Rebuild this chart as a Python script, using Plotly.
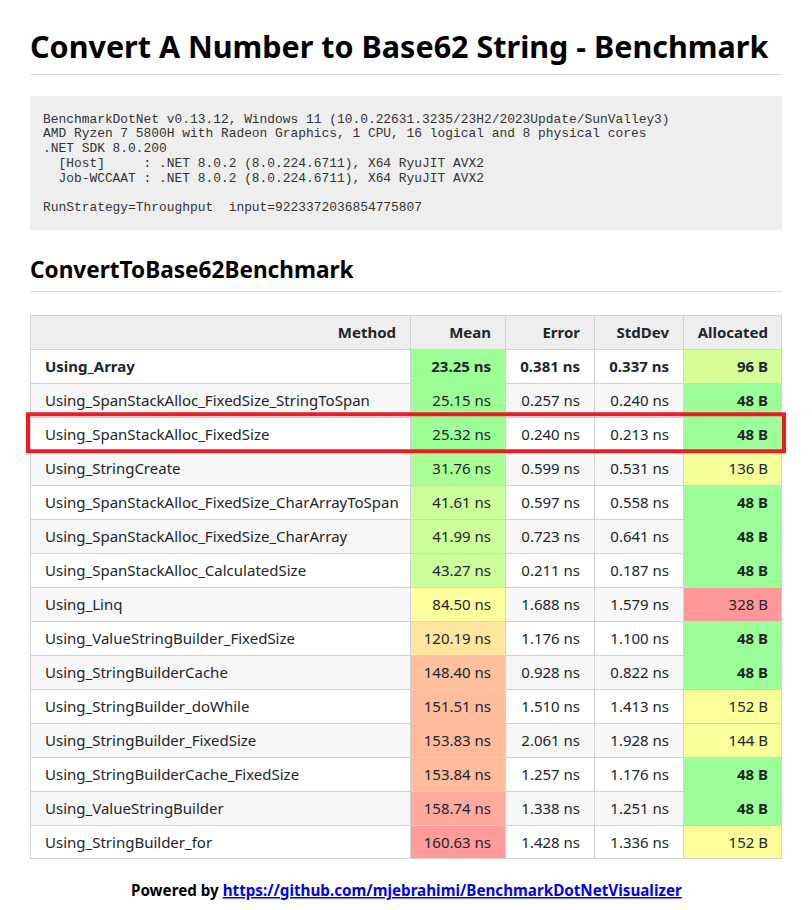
import plotly.graph_objects as go

# ---------------- data ----------------
methods = [
    "Using_Array",
    "Using_SpanStackAlloc_FixedSize_StringToSpan",
    "Using_SpanStackAlloc_FixedSize",
    "Using_StringCreate",
    "Using_SpanStackAlloc_FixedSize_CharArrayToSpan",
    "Using_SpanStackAlloc_FixedSize_CharArray",
    "Using_SpanStackAlloc_CalculatedSize",
    "Using_Linq",
    "Using_ValueStringBuilder_FixedSize",
    "Using_StringBuilderCache",
    "Using_StringBuilder_doWhile",
    "Using_StringBuilder_FixedSize",
    "Using_StringBuilderCache_FixedSize",
    "Using_ValueStringBuilder",
    "Using_StringBuilder_for",
]
mean_ns = [23.25, 25.15, 25.32, 31.76, 41.61, 41.99, 43.27, 84.50, 120.19,
           148.40, 151.51, 153.83, 153.84, 158.74, 160.63]
error_ns = [0.381, 0.257, 0.240, 0.599, 0.597, 0.723, 0.211, 1.688, 1.176,
            0.928, 1.510, 2.061, 1.257, 1.338, 1.428]
stddev_ns = [0.337, 0.240, 0.213, 0.531, 0.558, 0.641, 0.187, 1.579, 1.100,
             0.822, 1.413, 1.928, 1.176, 1.251, 1.336]
allocated_b = [96, 48, 48, 136, 48, 48, 48, 328, 48, 48, 152, 144, 48, 48, 152]
headers = ["Method", "Mean", "Error", "StdDev", "Allocated"]
highlighted = "Using_SpanStackAlloc_FixedSize"

title = "Convert A Number to Base62 String - Benchmark"
subtitle = "ConvertToBase62Benchmark"
env_lines = [
    "BenchmarkDotNet v0.13.12, Windows 11 (10.0.22631.3235/23H2/2023Update/SunValley3)",
    "AMD Ryzen 7 5800H with Radeon Graphics, 1 CPU, 16 logical and 8 physical cores",
    ".NET SDK 8.0.200",
    "  [Host]     : .NET 8.0.2 (8.0.224.6711), X64 RyuJIT AVX2",
    "  Job-WCCAAT : .NET 8.0.2 (8.0.224.6711), X64 RyuJIT AVX2",
    "",
    "RunStrategy=Throughput  input=9223372036854775807",
]
footer_prefix = "Powered by "
footer_link = "https://github.com/mjebrahimi/BenchmarkDotNetVisualizer"

# ---------------- styles ----------------
mean_colors = ["#9dff97", "#9dff97", "#9dff97", "#abff97", "#ccff99", "#ccff99",
               "#ccff99", "#ffff9e", "#ffe59d", "#ffc09d", "#ffbd9d", "#ffbb9c",
               "#ffbb9c", "#ffaa9c", "#ff9b9b"]
alloc_colors = ["#d6ff99", "#9cff99", "#9cff99", "#f4ff99", "#9cff99", "#9cff99",
                "#9cff99", "#ff9999", "#9cff99", "#9cff99", "#fcff99", "#f9ff99",
                "#9cff99", "#9cff99", "#fcff99"]

FONT = "Noto Sans"
MONO = "Liberation Mono"
TXT = "#212529"
GRID = "#d2d2d2"
HEADER_BG = "#eeeeee"
STRIPE = ["#ffffff", "#f7f7f7"]

# page geometry (the plot area is mapped 1:1 onto page pixels)
W, H, OFF = 796, 894, 8
TABLE_LEFT = 30
COL_W = [380, 95, 89, 89, 99]
TABLE_TOP = 315
ROW_H = 34
CELL_PAD = 14
TEXT_SIZE = 15
TEXT_DY = 1.8

n = len(methods)
best_alloc = min(allocated_b)

edges = [TABLE_LEFT]
for w in COL_W:
    edges.append(edges[-1] + w)
table_bottom = TABLE_TOP + ROW_H * (n + 1)


def row_center(i):  # i = -1 -> header
    return TABLE_TOP + ROW_H * (i + 1) + ROW_H / 2 + TEXT_DY


def b(text, bold):
    return f"<b>{text}</b>" if bold else text


col_texts = [
    [b(m, i == 0) for i, m in enumerate(methods)],
    [b(f"{v:.2f} ns", i == 0) for i, v in enumerate(mean_ns)],
    [b(f"{v:.3f} ns", i == 0) for i, v in enumerate(error_ns)],
    [b(f"{v:.3f} ns", i == 0) for i, v in enumerate(stddev_ns)],
    [b(f"{v} B", i == 0 or v == best_alloc) for i, v in enumerate(allocated_b)],
]
stripe = [STRIPE[i % 2] for i in range(n)]
col_fills = [stripe, mean_colors, stripe, stripe, alloc_colors]
col_align = ["left", "right", "right", "right", "right"]

shapes = []
# cell backgrounds
for c in range(5):
    shapes.append(dict(type="rect", xref="x", yref="y", layer="below",
                       x0=edges[c], x1=edges[c + 1], y0=TABLE_TOP, y1=TABLE_TOP + ROW_H,
                       fillcolor=HEADER_BG, line=dict(width=0)))
    for i in range(n):
        y0 = TABLE_TOP + ROW_H * (i + 1)
        shapes.append(dict(type="rect", xref="x", yref="y", layer="below",
                           x0=edges[c], x1=edges[c + 1], y0=y0, y1=y0 + ROW_H,
                           fillcolor=col_fills[c][i], line=dict(width=0)))
# grid lines
for e in edges:
    x = e + 0.5 if e != edges[-1] else e - 0.5
    shapes.append(dict(type="line", xref="x", yref="y", x0=x, x1=x,
                       y0=TABLE_TOP, y1=table_bottom, line=dict(color=GRID, width=1)))
for k in range(n + 2):
    y = TABLE_TOP + ROW_H * k + 0.5
    if k == n + 1:
        y -= 1
    shapes.append(dict(type="line", xref="x", yref="y", x0=edges[0], x1=edges[-1],
                       y0=y, y1=y, line=dict(color=GRID, width=1)))
# rules and code block
shapes += [
    dict(type="line", xref="x", yref="y", x0=30, x1=782, y0=74.5, y1=74.5,
         line=dict(color="#dcdcdc", width=1)),
    dict(type="rect", xref="x", yref="y", x0=30, x1=782, y0=96, y1=230,
         fillcolor="#eeeeee", line=dict(width=0), layer="below"),
    dict(type="line", xref="x", yref="y", x0=30, x1=782, y0=291.5, y1=291.5,
         line=dict(color="#dcdcdc", width=1)),
]
# highlight rectangle around the highlighted method row
hi = methods.index(highlighted)
hy0 = TABLE_TOP + ROW_H * (hi + 1)
shapes.append(dict(type="rect", xref="x", yref="y",
                   x0=edges[0] - 2, x1=edges[-1] + 2, y0=hy0 - 2.7, y1=hy0 + ROW_H + 0.3,
                   line=dict(color="#ec1c24", width=4), fillcolor="rgba(0,0,0,0)"))

fig = go.Figure()
# header texts
fig.add_trace(go.Scatter(
    x=[edges[c + 1] - CELL_PAD for c in range(5)],
    y=[row_center(-1)] * 5,
    text=[f"<b>{h}</b>" for h in headers],
    mode="text", textposition="middle left", hoverinfo="skip",
    textfont=dict(family=FONT, size=TEXT_SIZE, color=TXT),
))
# body texts, one trace per column
for c in range(5):
    if col_align[c] == "left":
        xs = [edges[c] + CELL_PAD + 1] * n
        pos = "middle right"
    else:
        xs = [edges[c + 1] - CELL_PAD] * n
        pos = "middle left"
    fig.add_trace(go.Scatter(
        x=xs, y=[row_center(i) for i in range(n)], text=col_texts[c],
        mode="text", textposition=pos, hoverinfo="skip",
        textfont=dict(family=FONT, size=TEXT_SIZE, color=TXT),
    ))

annotations = [
    dict(text=f"<b>{title}</b>", x=28, y=46, xref="x", yref="y",
         xanchor="left", yanchor="middle", showarrow=False,
         font=dict(family=FONT, size=30.5, color="#000000")),
    dict(text=f"<b>{subtitle}</b>", x=28, y=269, xref="x", yref="y",
         xanchor="left", yanchor="middle", showarrow=False,
         font=dict(family=FONT, size=22.6, color="#000000")),
    dict(text=f"<b>{footer_prefix}</b><a href='{footer_link}' style='color:#0000ee'>"
              f"<b><span style='text-decoration:underline;color:#0000ee'>{footer_link}</span></b></a>",
         x=406, y=890, xref="x", yref="y",
         xanchor="center", yanchor="middle", showarrow=False,
         font=dict(family=FONT, size=15.2, color="#000000")),
]
for i, line in enumerate(env_lines):
    if not line:
        continue
    annotations.append(dict(
        text=line.replace(" ", "\u00a0"), x=41, y=119 + 14.8 * i,
        xref="x", yref="y", xanchor="left", yanchor="middle", showarrow=False,
        font=dict(family=MONO, size=12.9, color="#333333")))

fig.update_layout(
    width=W, height=H,
    margin=dict(l=0, r=0, t=0, b=0),
    paper_bgcolor="#ffffff",
    plot_bgcolor="#ffffff",
    xaxis=dict(range=[OFF, OFF + W], visible=False, fixedrange=True),
    yaxis=dict(range=[OFF + H, OFF], visible=False, fixedrange=True),
    shapes=shapes,
    annotations=annotations,
    showlegend=False,
)

fig.write_html("out.html")
